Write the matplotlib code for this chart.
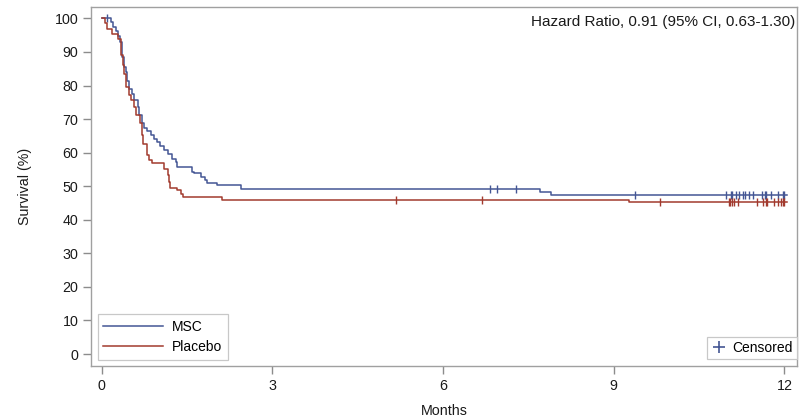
import matplotlib
matplotlib.use("Agg")
import matplotlib.pyplot as plt
from matplotlib.lines import Line2D

plt.rcParams["font.family"] = ["Liberation Sans", "DejaVu Sans"]

# Kaplan-Meier step data (months, survival %)
msc_t = [0.00, 0.16, 0.20, 0.25, 0.28, 0.32, 0.35, 0.36, 0.39, 0.42, 0.45, 0.48,
         0.54, 0.57, 0.63, 0.66, 0.70, 0.74, 0.80, 0.86, 0.92, 0.98, 1.03, 1.10,
         1.17, 1.24, 1.30, 1.33, 1.59, 1.63, 1.74, 1.81, 1.85, 2.02, 2.44, 7.70,
         7.90]
msc_s = [100.0, 98.9, 97.4, 96.2, 94.9, 93.0, 91.0, 88.5, 85.5, 84.0, 81.5, 79.1,
         77.6, 75.6, 73.6, 71.1, 68.7, 67.4, 66.4, 65.3, 64.2, 63.2, 61.9, 60.7,
         59.5, 58.2, 57.2, 55.6, 54.3, 53.8, 52.8, 51.8, 51.1, 50.4, 49.2, 48.4,
         47.3]
msc_end = 12.05
msc_cens = [0.09, 6.82, 6.95, 7.28, 9.38, 10.97, 11.06, 11.08, 11.14, 11.20,
            11.27, 11.31, 11.38, 11.44, 11.61, 11.65, 11.68, 11.77, 11.89, 11.97,
            12.00]

plc_t = [0.00, 0.06, 0.10, 0.18, 0.29, 0.33, 0.37, 0.39, 0.42, 0.48, 0.52, 0.57,
         0.60, 0.67, 0.70, 0.72, 0.80, 0.83, 0.88, 1.10, 1.17, 1.19, 1.20, 1.33,
         1.40, 1.43, 2.12, 9.27]
plc_s = [100.0, 98.5, 96.9, 95.4, 93.8, 89.0, 86.0, 83.5, 79.6, 77.1, 75.6, 73.6,
         71.1, 68.7, 65.2, 62.7, 59.2, 57.9, 57.0, 55.1, 53.3, 51.3, 49.6, 48.8,
         47.8, 46.8, 46.0, 45.2]
plc_end = 12.05
plc_cens = [5.18, 6.68, 9.81, 11.03, 11.05, 11.07, 11.12, 11.19, 11.52, 11.63,
            11.67, 11.70, 11.82, 11.89, 11.93, 11.98, 12.00]

hr_text = "Hazard Ratio, 0.91 (95% CI, 0.63-1.30)"
x_ticks = [0, 3, 6, 9, 12]
y_ticks = list(range(0, 101, 10))

BLUE = "#445694"
RED = "#A23A2E"
GRAY = "#8c8c8c"
TXT = "#1a1a1a"


def surv_at(times, surv, x):
    val = surv[0]
    for t, s in zip(times, surv):
        if t <= x:
            val = s
    return val


fig = plt.figure(figsize=(7.99, 4.20), dpi=100)
ax = fig.add_axes([0.1145, 0.1286, 0.883, 0.8547])

for times, surv, end, cens, col, lab in [
        (msc_t, msc_s, msc_end, msc_cens, BLUE, "MSC"),
        (plc_t, plc_s, plc_end, plc_cens, RED, "Placebo")]:
    ax.step(list(times) + [end], list(surv) + [surv[-1]], where="post",
            color=col, lw=1.1, label=lab)
    ax.plot(cens, [surv_at(times, surv, c) for c in cens], ls="none",
            marker="|", ms=6, mew=1.0, color=col)

ax.set_xlim(-0.18, 12.22)
ax.set_ylim(-3.57, 103.4)
ax.set_xticks(x_ticks)
ax.set_yticks(y_ticks)
ax.tick_params(colors=GRAY, labelcolor=TXT, labelsize=10.3, length=6, width=1)
for sp in ax.spines.values():
    sp.set_color("#a0a0a0")
    sp.set_linewidth(1.0)
ax.set_xlabel("Months", fontsize=10.3, color=TXT, labelpad=8)
ax.set_ylabel("Survival (%)", fontsize=10.3, color=TXT, labelpad=16)

ax.text(0.997, 0.958, hr_text, transform=ax.transAxes, ha="right", va="center",
        fontsize=11, color=TXT)

leg1 = ax.legend(loc="lower left", bbox_to_anchor=(0.0, 0.0), fontsize=10,
                 handlelength=4.3, handletextpad=0.65, labelspacing=0.45,
                 borderpad=0.4, borderaxespad=0.45, fancybox=False,
                 edgecolor="#c8c8c8", framealpha=1.0)
leg1.get_frame().set_linewidth(0.9)
ax.add_artist(leg1)

cens_handle = Line2D([], [], ls="none", marker="+", ms=8, mew=1.2, color=BLUE)
leg2 = ax.legend([cens_handle], ["Censored"], loc="lower right",
                 bbox_to_anchor=(1.0, 0.0195), fontsize=10, handlelength=1.0,
                 handletextpad=0.5, borderpad=0.3, borderaxespad=0.0,
                 fancybox=False, edgecolor="#c8c8c8", framealpha=1.0)
leg2.get_frame().set_linewidth(0.9)

fig.savefig("out.png", dpi=100)
